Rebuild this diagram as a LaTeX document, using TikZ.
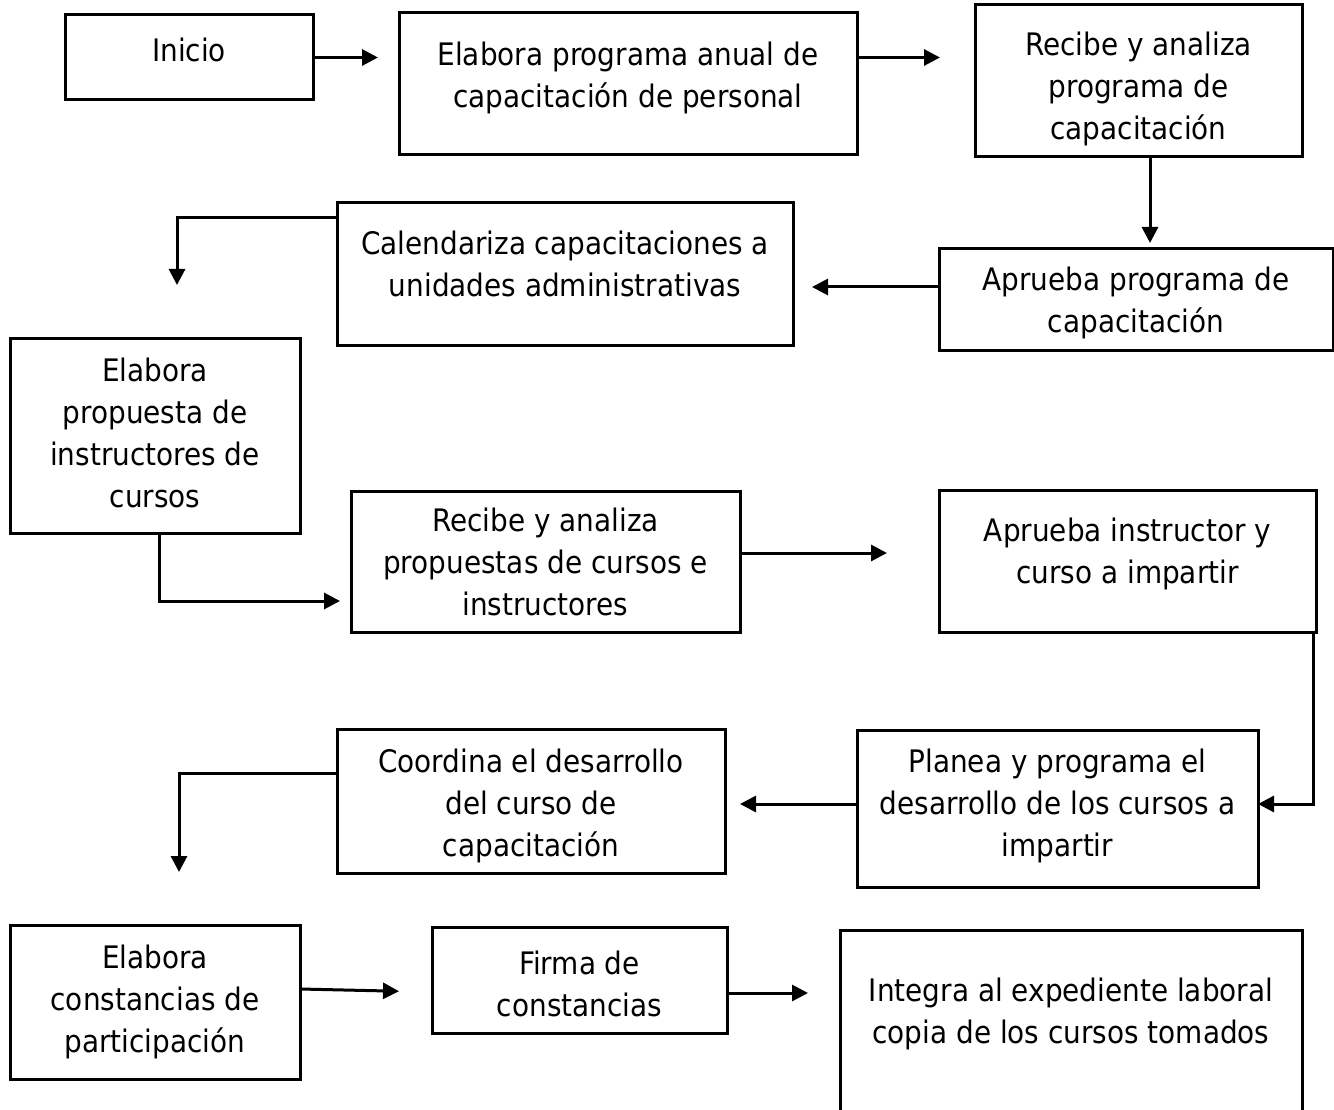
\documentclass[tikz,border=0pt]{standalone}
\usepackage{fontspec}
\setmainfont{DejaVu Sans}[FakeStretch=0.9]
\usetikzlibrary{arrows.meta}

\begin{document}
\begin{tikzpicture}[x=1pt,y=-1pt,
  font=\fontsize{31pt}{42pt}\selectfont,
  proc/.style={draw,line width=3pt,rectangle,inner sep=0pt,outer sep=0pt,align=center},
  flow/.style={line width=3pt,-{Triangle[length=16pt,width=16pt]}},
]
\useasboundingbox (0,0) rectangle (1334,1110);
\clip (0,0) rectangle (1334,1110);

% the boxes
\node[proc,minimum width=248pt,minimum height=85pt,text depth=16pt] (n1) at (189,57.5) {Inicio};
\node[proc,minimum width=458pt,minimum height=142pt,text depth=18.4pt] (n2) at (628,84)
  {Elabora programa anual de\\capacitación de personal};
\node[proc,minimum width=327pt,minimum height=152pt,text height=123.5pt] (n3) at (1138.5,81)
  {Recibe y analiza\\programa de\\capacitación};
\node[proc,minimum width=456pt,minimum height=142pt,text depth=20pt] (n4) at (565,274)
  {Calendariza capacitaciones a\\unidades administrativas};
\node[proc,minimum width=394pt,minimum height=101pt,text height=71.5pt] (n5) at (1136,299.5)
  {Aprueba programa de\\capacitación};
\node[proc,minimum width=290pt,minimum height=195pt,text depth=6pt] (n6) at (155,435.5)
  {Elabora\\propuesta de\\instructores de\\cursos};
\node[proc,minimum width=389pt,minimum height=141pt] (n7) at (545.5,561.5)
  {Recibe y analiza\\propuestas de cursos e\\instructores};
\node[proc,minimum width=377pt,minimum height=142pt,text depth=20.4pt] (n8) at (1127.5,561)
  {Aprueba instructor y\\curso a impartir};
\node[proc,minimum width=401pt,minimum height=157pt,text depth=12.4pt] (n9) at (1057.5,808.5)
  {Planea y programa el\\desarrollo de los cursos a\\impartir};
\node[proc,minimum width=388pt,minimum height=144pt,text height=117.5pt] (n10) at (531,801)
  {Coordina el desarrollo\\del curso de\\capacitación};
\node[proc,minimum width=290pt,minimum height=154pt] (n11) at (155,1002)
  {Elabora\\constancias de\\participación};
\node[proc,minimum width=295pt,minimum height=106pt,text height=73.5pt] (n12) at (579.5,980)
  {Firma de\\constancias};
\node[proc,draw=none,minimum width=462pt,minimum height=162pt,text height=71.5pt] (n13) at (1071,1011)
  {Integra al expediente laboral\\copia de los cursos tomados};
% last box runs off the page
\draw[line width=3pt] ([yshift=-30pt]n13.south west) -- (n13.north west)
  -- (n13.north east) -- ([yshift=-30pt]n13.south east);

% connectors
\draw[flow,shorten >=21pt] (n1.east) -- (n1.east -| n2.west);
\draw[flow,shorten >=35pt] (n1.east -| n2.east) -- (n1.east -| n3.west);
\draw[flow,shorten >=6pt] ([xshift=11.5pt]n3.south) -- ([xshift=14pt]n5.north);
\draw[flow,shorten >=19pt] ([yshift=12.5pt]n5.west) -- ([yshift=-13pt]n4.east);
\draw[flow,shorten >=53pt] ([yshift=56pt]n4.west) -| ([xshift=22pt]n6.north);
\draw[flow,shorten >=11pt] ([xshift=4pt]n6.south) |- ([yshift=-39.5pt]n7.west);
\draw[flow,shorten >=52pt] ([yshift=8.5pt]n7.east) -- ([yshift=8pt]n8.west);
\draw[flow] ([xshift=85.5pt]n8.south) -- ([xshift=185.5pt]n8.south)
  |- ([yshift=4.5pt]n9.east);
\draw[flow,shorten >=15pt] ([yshift=4.5pt]n9.west) -- ([yshift=-3pt]n10.east);
\draw[flow,shorten >=53pt] ([yshift=28pt]n10.west) -| ([xshift=24pt]n11.north);
\draw[flow,shorten >=33pt] ([yshift=13pt]n11.east) -- ([yshift=-12pt]n12.west);
\draw[flow,shorten >=32pt] ([yshift=-13pt]n12.east) -- ([yshift=18pt]n13.west);
\end{tikzpicture}
\end{document}
